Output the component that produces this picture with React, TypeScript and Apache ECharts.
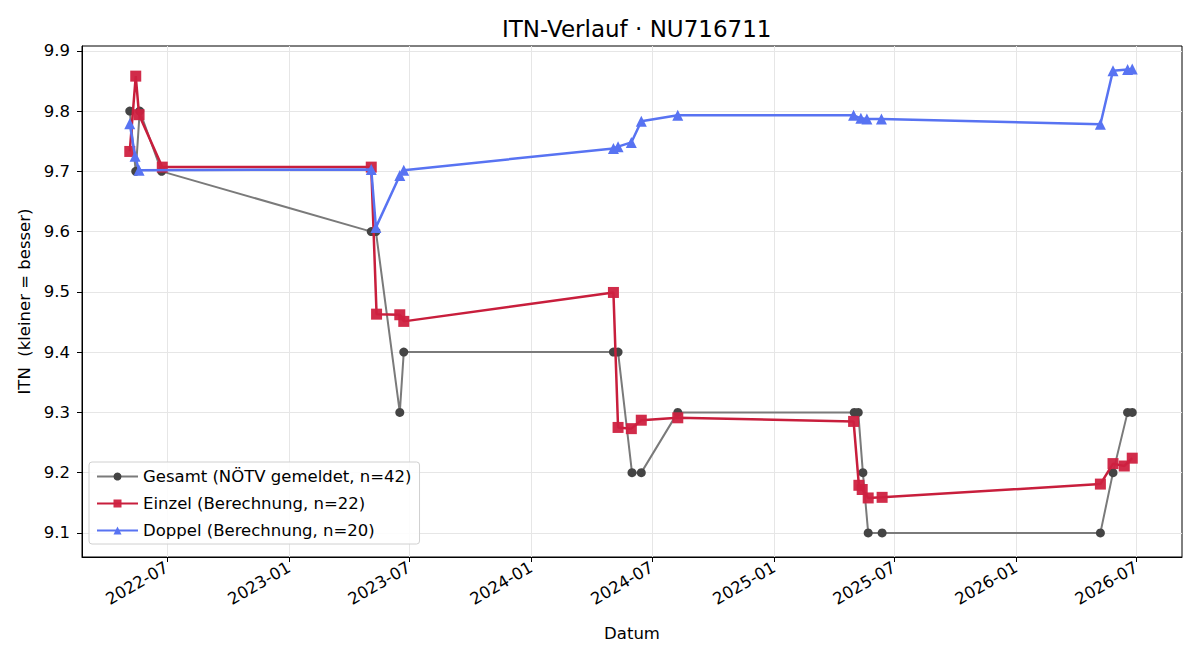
import React, { useEffect, useRef } from "react";
import * as echarts from "echarts";

const gesamtDates = [
  "2022-05-06", "2022-05-15", "2022-05-21", "2022-06-23",
  "2023-05-05", "2023-05-12", "2023-06-17", "2023-06-23",
  "2024-05-04", "2024-05-11", "2024-06-01", "2024-06-15", "2024-08-09",
  "2025-05-02", "2025-05-08", "2025-05-15", "2025-05-23", "2025-06-13",
  "2026-05-08", "2026-05-27", "2026-06-18", "2026-06-25",
];
const gesamtValues = [
  9.8, 9.7, 9.8, 9.7,
  9.6, 9.6, 9.3, 9.4,
  9.4, 9.4, 9.2, 9.2, 9.3,
  9.3, 9.3, 9.2, 9.1, 9.1,
  9.1, 9.2, 9.3, 9.3,
];

const einzelDates = [
  "2022-05-06", "2022-05-15", "2022-05-20", "2022-06-24",
  "2023-05-05", "2023-05-13", "2023-06-17", "2023-06-23",
  "2024-05-04", "2024-05-11", "2024-05-31", "2024-06-15", "2024-08-09",
  "2025-05-01", "2025-05-09", "2025-05-14", "2025-05-23", "2025-06-13",
  "2026-05-08", "2026-05-27", "2026-06-13", "2026-06-25",
];
const einzelValues = [
  9.733, 9.858, 9.794, 9.707,
  9.707, 9.463, 9.462, 9.451,
  9.499, 9.275, 9.273, 9.287, 9.291,
  9.285, 9.179, 9.172, 9.158, 9.159,
  9.181, 9.215, 9.211, 9.224,
];

const doppelDates = [
  "2022-05-06", "2022-05-14", "2022-05-20",
  "2023-05-05", "2023-05-12", "2023-06-17", "2023-06-23",
  "2024-05-04", "2024-05-11", "2024-05-31", "2024-06-15", "2024-08-09",
  "2025-05-01", "2025-05-12", "2025-05-21", "2025-06-12",
  "2026-05-08", "2026-05-27", "2026-06-18", "2026-06-25",
];
const doppelValues = [
  9.779, 9.725, 9.702,
  9.703, 9.607, 9.693, 9.702,
  9.738, 9.741, 9.748, 9.783, 9.793,
  9.793, 9.788, 9.787, 9.787,
  9.778, 9.867, 9.869, 9.87,
];

const xTickDates = [
  "2022-07-01", "2023-01-01", "2023-07-01", "2024-01-01",
  "2024-07-01", "2025-01-01", "2025-07-01", "2026-01-01", "2026-07-01",
];
const yTicks = [9.1, 9.2, 9.3, 9.4, 9.5, 9.6, 9.7, 9.8, 9.9];

const xMinDate = "2022-02-23";
const xMaxDate = "2026-09-08";
const yMin = 9.06;
const yMax = 9.908;

const toTs = (s: string) => {
  const [y, m, d] = s.split("-").map(Number);
  return Date.UTC(y, m - 1, d);
};
const pairs = (ds: string[], vs: number[]) => ds.map((d, i) => [toTs(d), vs[i]]);
const fmtMonth = (v: number) => {
  const dt = new Date(v);
  const m = dt.getUTCMonth() + 1;
  return `${dt.getUTCFullYear()}-${m < 10 ? "0" + m : m}`;
};

const FONT = "DejaVu Sans";
const FS = 16.5;

export default function App() {
  const ref = useRef<HTMLDivElement>(null);
  useEffect(() => {
    if (!ref.current) return;
    const chart = echarts.init(ref.current, null, { renderer: "svg" });
    const xTicks = xTickDates.map(toTs);
    chart.setOption({
      animation: false,
      textStyle: { fontFamily: FONT },
      title: {
        text: "ITN-Verlauf · NU716711",
        left: 497,
        top: 12,
        textStyle: { fontFamily: FONT, fontSize: 23, fontWeight: "normal", color: "#000" },
      },
      grid: {
        left: 82, right: 18, top: 46, bottom: 103,
        show: true, borderColor: "#000", borderWidth: 1, backgroundColor: "transparent",
      },
      legend: {
        orient: "vertical",
        left: 89,
        top: 462,
        itemWidth: 41,
        itemHeight: 10,
        itemGap: 10,
        padding: [6, 8, 5, 7],
        borderColor: "#d0d0d0",
        borderWidth: 1,
        borderRadius: 3,
        backgroundColor: "rgba(255,255,255,0.85)",
        textStyle: { fontFamily: FONT, fontSize: FS, color: "#000" },
        data: [
          "Gesamt (NÖTV gemeldet, n=42)",
          "Einzel (Berechnung, n=22)",
          "Doppel (Berechnung, n=20)",
        ],
      },
      xAxis: {
        type: "value",
        min: toTs(xMinDate),
        max: toTs(xMaxDate),
        name: "Datum",
        nameLocation: "middle",
        nameGap: 68,
        nameTextStyle: { fontFamily: FONT, fontSize: FS, color: "#000" },
        axisLine: { show: true, onZero: false, lineStyle: { color: "#000", width: 1 } },
        axisTick: { show: true, length: 5, lineStyle: { color: "#000" }, customValues: xTicks },
        axisLabel: {
          customValues: xTicks,
          rotate: 30,
          margin: 9,
          fontFamily: FONT,
          fontSize: FS,
          color: "#000",
          formatter: (v: number) => fmtMonth(v),
        },
        splitLine: { show: true, lineStyle: { color: "#e6e6e6", width: 1 } },
      },
      yAxis: {
        type: "value",
        min: yMin,
        max: yMax,
        name: "ITN  (kleiner = besser)",
        nameLocation: "middle",
        nameGap: 49,
        nameTextStyle: { fontFamily: FONT, fontSize: FS, color: "#000" },
        axisLine: { show: true, onZero: false, lineStyle: { color: "#000", width: 1 } },
        axisTick: { show: true, length: 5, lineStyle: { color: "#000" }, customValues: yTicks },
        axisLabel: {
          customValues: yTicks,
          margin: 12,
          fontFamily: FONT,
          fontSize: FS,
          color: "#000",
          formatter: (v: number) => v.toFixed(1),
        },
        splitLine: { show: true, lineStyle: { color: "#e6e6e6", width: 1 } },
      },
      series: [
        {
          name: "Gesamt (NÖTV gemeldet, n=42)",
          type: "line",
          data: pairs(gesamtDates, gesamtValues),
          symbol: "circle",
          symbolSize: 9,
          showAllSymbol: true,
          lineStyle: { color: "#7a7a7a", width: 2 },
          itemStyle: { color: "#444444", borderWidth: 0 },
          z: 2,
        },
        {
          name: "Einzel (Berechnung, n=22)",
          type: "line",
          data: pairs(einzelDates, einzelValues),
          symbol: "rect",
          symbolSize: 11,
          showAllSymbol: true,
          lineStyle: { color: "#c81e3c", width: 2.5 },
          itemStyle: { color: "#cf2140", borderWidth: 0, opacity: 0.95 },
          z: 3,
        },
        {
          name: "Doppel (Berechnung, n=20)",
          type: "line",
          data: pairs(doppelDates, doppelValues),
          symbol: "triangle",
          symbolSize: 11,
          showAllSymbol: true,
          lineStyle: { color: "#5873f2", width: 2.5 },
          itemStyle: { color: "#5873f2", borderWidth: 0 },
          z: 4,
        },
      ],
    });
    return () => chart.dispose();
  }, []);
  return (
    <div
      ref={ref}
      style={{ position: "fixed", left: 0, top: 0, width: 1200, height: 660, background: "#fff" }}
    />
  );
}
